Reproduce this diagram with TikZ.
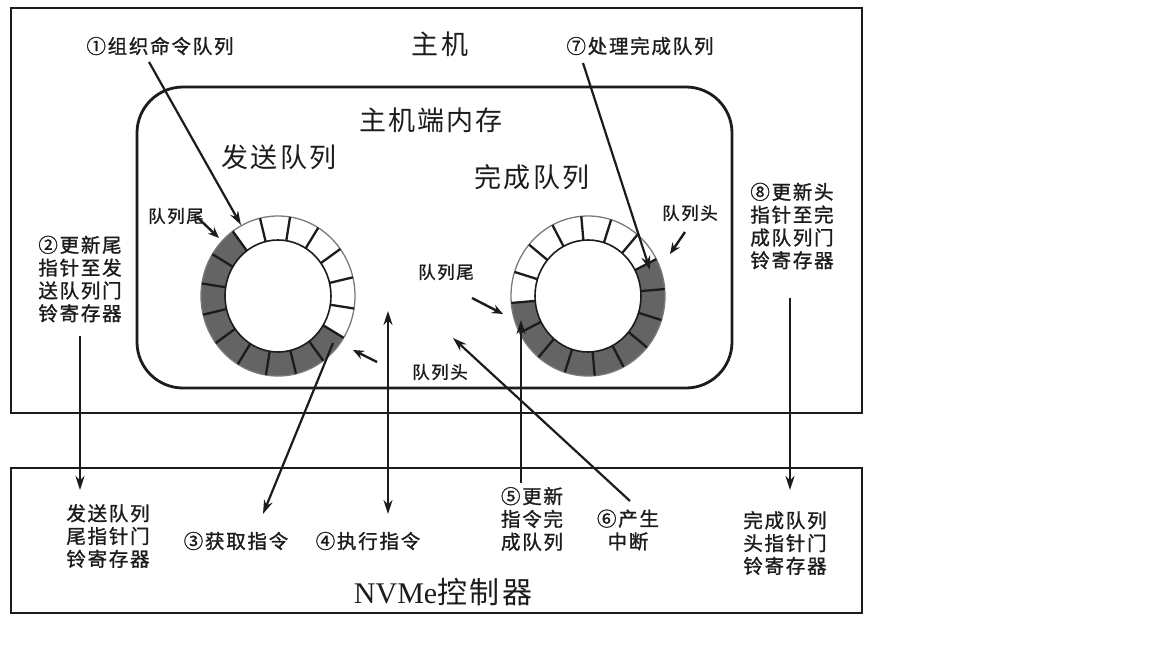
\documentclass[tikz,border=0pt]{standalone}
\usepackage{fontspec}
\setmainfont{Liberation Serif}
\newfontfamily\cjks{Noto Sans CJK SC}[LetterSpace=8]
\newfontfamily\cjkb{Noto Sans CJK SC}[LetterSpace=9,FakeBold=1.2]
\usetikzlibrary{arrows.meta}
\definecolor{ink}{HTML}{1C1C1C}
\definecolor{qfill}{HTML}{646464}
\definecolor{rimc}{HTML}{7A7A7A}
\tikzset{
  txt/.style={text=ink, inner sep=0pt, align=center},
  bigt/.style={txt, font=\cjks\fontsize{27}{30}\selectfont},
  midt/.style={txt, font=\cjkb\fontsize{19.5}{22.8}\selectfont},
  smallt/.style={txt, font=\cjkb\fontsize{17.5}{20}\selectfont},
  arr/.style={draw=ink, line width=2.2pt, -{Stealth[length=14pt,width=9pt]}},
  darr/.style={draw=ink, line width=2.2pt, {Stealth[length=14pt,width=9pt]}-{Stealth[length=14pt,width=9pt]}},
  sarr/.style={draw=ink, line width=2.4pt, -{Stealth[length=11pt,width=9pt]}},
  boxline/.style={draw=ink, line width=2.8pt},
}
\newcommand{\qring}[3]{% center, start angle, number of white cells
  \begin{scope}[shift={(#1)}, y=1pt]
    \foreach \k in {0,...,15} {
      \pgfmathsetmacro\aa{#2-22.5*\k}
      \pgfmathsetmacro\bb{#2-22.5*(\k+1)}
      \ifnum\k<#3 \def\fc{white}\else\def\fc{qfill}\fi
      \fill[\fc] (\aa:77 and 80) arc[start angle=\aa, end angle=\bb, x radius=77, y radius=80]
        -- (\bb:53 and 56) arc[start angle=\bb, end angle=\aa, x radius=53, y radius=56] -- cycle;
    }
    \draw[rimc, line width=1.3pt] (0,0) ellipse[x radius=77, y radius=80];
    \draw[ink, line width=1.6pt] (0,0) ellipse[x radius=53, y radius=56];
    \foreach \k in {0,...,15} {
      \pgfmathsetmacro\aa{#2-22.5*\k}
      \draw[ink, line width=2.3pt] (\aa:53 and 56) -- (\aa:77 and 80);
    }
  \end{scope}
}
\begin{document}
\begin{tikzpicture}[x=1pt, y=-1pt]
\useasboundingbox (0,0) rectangle (1152,648);
\fill[white] (0,0) rectangle (1152,648);

% boxes
\node[boxline, minimum width=851pt, minimum height=405pt, inner sep=0pt] (host) at (436.5,210.5) {};
\node[boxline, minimum width=851pt, minimum height=145pt, inner sep=0pt] (nvme) at (436.5,540.5) {};
\node[boxline, rounded corners=46pt, minimum width=595pt, minimum height=301pt, inner sep=0pt] (mem) at (434.5,237.5) {};

% rings
\coordinate (sqc) at (278,296);
\coordinate (cqc) at (588,296);
\qring{sqc}{126}{7}
\qring{cqc}{185}{7}

% titles
\node[bigt] (hostt) at (440,44) {主机};
\node[bigt] (memt) at (431,120) {主机端内存};
\node[bigt] (sqt) at (279,157) {发送队列};
\node[bigt] (cqt) at (532,177) {完成队列};
\node[txt, font=\fontsize{30}{34}\selectfont] (nvmet) at (443,592) {NVMe{\cjks 控制器}};

% step labels
\node[midt] (l1) at (160,46) {①组织命令队列};
\node[midt] (l7) at (640,46) {⑦处理完成队列};
\node[midt] (l2) at (80,279) {②更新尾\\指针至发\\送队列门\\铃寄存器};
\node[midt] (l8) at (792,226) {⑧更新头\\指针至完\\成队列门\\铃寄存器};
\node[midt] (sdb) at (108,536) {发送队列\\尾指针门\\铃寄存器};
\node[midt] (l3) at (236,541) {③获取指令};
\node[midt] (l4) at (368,541) {④执行指令};
\node[midt] (l5) at (532,519) {⑤更新\\指令完\\成队列};
\node[midt] (l6) at (628,530) {⑥产生\\中断};
\node[midt] (cdb) at (785,543) {完成队列\\头指针门\\铃寄存器};

% pointer labels
\node[smallt] (lt1) at (176,216) {队列尾};
\node[smallt] (lh2) at (690,213) {队列头};
\node[smallt] (lt2) at (446,272) {队列尾};
\node[smallt] (lh1) at (440,372) {队列头};

% connector end points
\coordinate (a1s) at (149,62);   \coordinate (a1e) at (241,225);
\coordinate (a7s) at (583,63);   \coordinate (a7e) at (650,270);
\coordinate (a2s) at (80,336);   \coordinate (a2e) at (80,490);
\coordinate (a8s) at (790,298);  \coordinate (a8e) at (790,490);
\coordinate (a3s) at (333,343);  \coordinate (a3e) at (263,514);
\coordinate (a4s) at (388,311);  \coordinate (a4e) at (388,514);
\coordinate (a5s) at (521,483);  \coordinate (a5e) at (521,320);
\coordinate (a6s) at (630,501);  \coordinate (a6e) at (453,338);
\coordinate (t1s) at (197,217);  \coordinate (t1e) at (219,238);
\coordinate (h2s) at (685,232);  \coordinate (h2e) at (670,254);
\coordinate (t2s) at (472,298);  \coordinate (t2e) at (503,314);
\coordinate (h1s) at (377,362);  \coordinate (h1e) at (353,350);

\draw[arr] (a1s) -- (a1e);
\draw[arr] (a7s) -- (a7e);
\draw[arr] (a2s) -- (a2e);
\draw[arr] (a8s) -- (a8e);
\draw[arr] (a3s) -- (a3e);
\draw[darr] (a4s) -- (a4e);
\draw[arr] (a5s) -- (a5e);
\draw[arr] (a6s) -- (a6e);
\draw[sarr] (t1s) -- (t1e);
\draw[sarr] (h2s) -- (h2e);
\draw[sarr] (t2s) -- (t2e);
\draw[sarr] (h1s) -- (h1e);
\end{tikzpicture}
\end{document}
